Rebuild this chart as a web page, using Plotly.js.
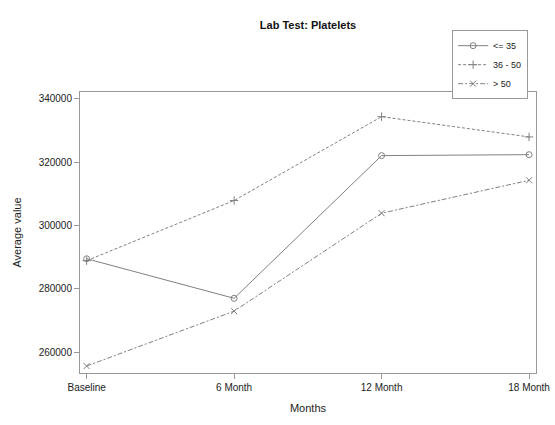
<!DOCTYPE html>
<html>
<head>
<meta charset="utf-8">
<script src="https://cdn.plot.ly/plotly-3.0.1.min.js"></script>
<style>html,body{margin:0;padding:0;background:#fff;}#chart{width:555px;height:425px;}</style>
</head>
<body>
<div id="chart"></div>
<script>
const months = ["Baseline", "6 Month", "12 Month", "18 Month"];
const seriesNames = ["<= 35", "36 - 50", "> 50"];
const le35 = [289500, 277000, 322100, 322400];
const age36to50 = [288900, 307900, 334400, 328000];
const gt50 = [255600, 272950, 303900, 314300];
const yTicks = [260000, 280000, 300000, 320000, 340000];

const xIdx = months.map((_, i) => i);
const col = "#808080";
const mk = (name, y, dash, sym) => ({
  x: xIdx, y: y, name: name, type: "scatter", mode: "lines+markers",
  line: {color: col, width: 1, dash: dash},
  marker: {symbol: sym, size: 6, color: col, line: {color: col, width: 1}}
});

const data = [
  mk(seriesNames[0], le35, "solid", "circle-open"),
  mk(seriesNames[1], age36to50, "3px,2px", "cross-thin-open"),
  mk(seriesNames[2], gt50, "5px,2px,2px,2px", "x-thin-open")
];

const font = {family: "Liberation Sans, Arial, sans-serif", size: 10, color: "#222"};
const layout = {
  width: 555, height: 425,
  margin: {l: 80, r: 19, t: 92, b: 52},
  paper_bgcolor: "#fff", plot_bgcolor: "#fff",
  font: font,
  title: {text: "<b>Lab Test: Platelets</b>", x: 308/555, xanchor: "center", y: 0.94, yanchor: "middle",
          font: {family: "Liberation Sans, Arial, sans-serif", size: 11, color: "#111"}},
  xaxis: {
    range: [-0.045, 3.047], tickvals: xIdx, ticktext: months,
    showgrid: false, zeroline: false, showline: true, mirror: true,
    linecolor: "#999", linewidth: 1, ticks: "outside", ticklen: 5, tickcolor: "#999",
    tickfont: font,
    title: {text: "Months", font: {family: "Liberation Sans, Arial, sans-serif", size: 11, color: "#222"}, standoff: 12}
  },
  yaxis: {
    range: [253400, 342200], tickvals: yTicks, ticktext: yTicks.map(String),
    showgrid: false, zeroline: false, showline: true, mirror: true,
    linecolor: "#999", linewidth: 1, ticks: "outside", ticklen: 5, tickcolor: "#999",
    tickfont: font,
    title: {text: "Average value", font: {family: "Liberation Sans, Arial, sans-serif", size: 11, color: "#222"}, standoff: 14}
  },
  showlegend: true,
  legend: {
    x: 0.816, xanchor: "left", y: 1.22, yanchor: "top",
    bordercolor: "#999", borderwidth: 1, bgcolor: "#fff",
    font: {family: "Liberation Sans, Arial, sans-serif", size: 9, color: "#222"},
    tracegroupgap: 0, itemwidth: 30
  }
};
Plotly.newPlot("chart", data, layout, {displayModeBar: false, staticPlot: true});
</script>
</body>
</html>
